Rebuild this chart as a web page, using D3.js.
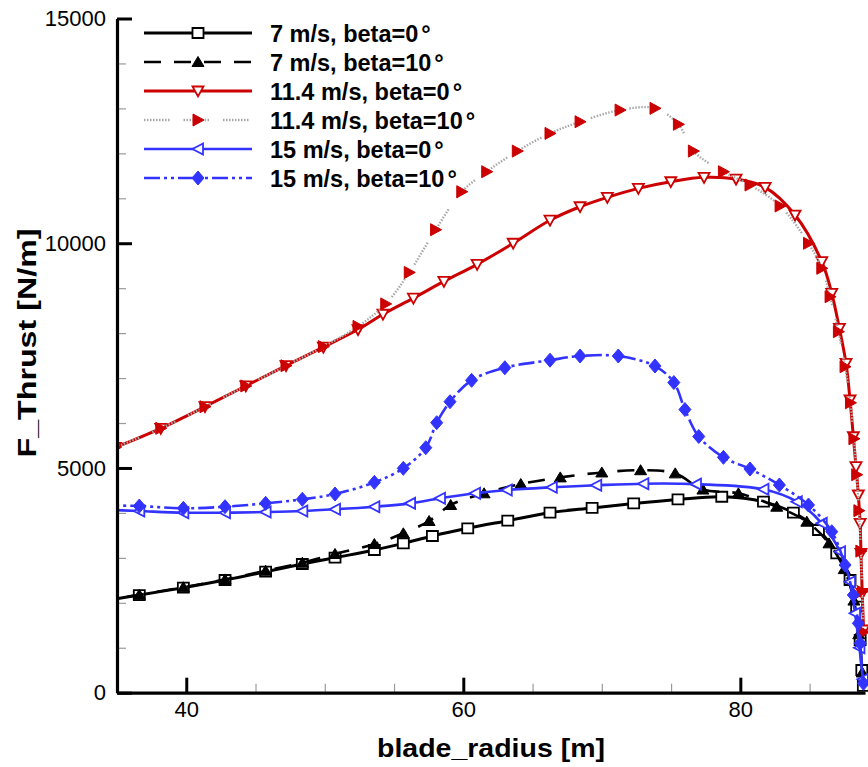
<!DOCTYPE html>
<html>
<head>
<meta charset="utf-8">
<script src="https://cdn.jsdelivr.net/npm/d3@7"></script>
<style>
  html, body { margin: 0; padding: 0; background: #fff; }
  svg { display: block; font-family: "Liberation Sans", Arial, Helvetica, sans-serif; }
</style>
</head>
<body>
<svg id="chart" width="868" height="767"></svg>
<script>
// Spanwise thrust distribution along the blade, F_Thrust [N/m] vs blade_radius [m]

// 7 m/s, beta = 0 deg
const r7b0 = [33.6, 36.61, 39.79, 42.80, 45.73, 48.38, 50.74, 53.58, 55.67, 57.77, 60.32, 63.21, 66.26, 69.3, 72.3, 75.5, 78.66, 81.67, 83.83, 85.64, 86.96, 87.92, 88.40, 88.65, 88.77, 88.88];
const f7b0 = [2020, 2173, 2336, 2507, 2692, 2863, 3004, 3175, 3323, 3486, 3657, 3827, 4005, 4110, 4210, 4300, 4360, 4249, 4005, 3620, 3101, 2507, 1913, 1172, 505, 150];

// 7 m/s, beta = 10 deg
const r7b10 = [33.6, 36.61, 39.79, 42.80, 45.73, 48.38, 50.74, 53.58, 55.67, 57.53, 59.09, 61.50, 64.15, 67.0, 70.0, 72.8, 75.3, 77.3, 79.86, 82.63, 84.8, 86.4, 87.5, 88.2, 88.55, 88.8];
const f7b10 = [2020, 2180, 2345, 2520, 2714, 2892, 3086, 3308, 3546, 3820, 4176, 4436, 4643, 4790, 4900, 4950, 4880, 4520, 4436, 4138, 3805, 3323, 2750, 2050, 1300, 450];

// 11.4 m/s, beta = 0 deg
const r11b0 = [34.9, 38.16, 41.35, 44.3, 47.2, 49.9, 52.4, 54.2, 56.4, 58.6, 61.0, 63.6, 66.26, 68.43, 70.40, 72.64, 74.98, 77.38, 79.69, 81.79, 83.95, 85.88, 86.6, 87.15, 87.63, 87.92, 88.16, 88.35, 88.52, 88.65, 88.71, 88.80, 88.9];
const f11b0 = [5460, 5882, 6363, 6825, 7275, 7690, 8080, 8420, 8780, 9150, 9530, 10000, 10512, 10812, 11021, 11221, 11368, 11466, 11428, 11244, 10627, 9590, 8885, 8107, 7328, 6512, 5695, 5028, 4398, 3768, 3101, 2211, 1395];

// 11.4 m/s, beta = 10 deg
const r11b10 = [34.9, 38.16, 41.35, 44.3, 47.2, 49.9, 52.4, 54.4, 56.1, 58.0, 59.89, 61.69, 63.9, 66.26, 68.43, 71.32, 73.84, 75.53, 76.61, 78.78, 80.70, 82.87, 84.92, 85.88, 86.48, 87.08, 87.56, 87.95, 88.2, 88.4, 88.56, 88.7, 88.8, 88.9];
const f11b10 = [5460, 5882, 6363, 6825, 7275, 7700, 8150, 8650, 9350, 10300, 11146, 11591, 12050, 12444, 12703, 12963, 13001, 12645, 12051, 11591, 11295, 10828, 9998, 9442, 8810, 8032, 7253, 6450, 5650, 4850, 4050, 3150, 2250, 1350];

// 15 m/s, beta = 0 deg
const r15b0 = [33.5, 36.61, 39.79, 42.80, 45.73, 48.38, 50.74, 53.58, 56.16, 58.32, 60.85, 63.14, 66.39, 69.6, 73.0, 76.8, 81.67, 84.08, 85.88, 87.20, 87.92, 88.28, 88.6, 88.85];
const f15b0 = [4080, 4042, 4005, 4005, 4020, 4042, 4080, 4138, 4213, 4325, 4436, 4510, 4570, 4615, 4650, 4640, 4525, 4249, 3768, 3137, 2469, 1766, 1000, 300];

// 15 m/s, beta = 10 deg
const r15b10 = [33.5, 36.61, 39.79, 42.80, 45.73, 48.38, 50.74, 53.58, 55.67, 57.29, 58.08, 59.04, 60.6, 63.0, 66.26, 68.43, 71.19, 73.84, 75.2, 76.0, 77.0, 78.78, 80.70, 82.82, 84.92, 86.60, 87.56, 88.16, 88.52, 88.65, 88.89];
const f15b10 = [4170, 4153, 4102, 4138, 4213, 4302, 4420, 4680, 4992, 5451, 6007, 6474, 6950, 7230, 7398, 7491, 7491, 7268, 6900, 6300, 5700, 5237, 4977, 4621, 4176, 3582, 2841, 2173, 1543, 1098, 209];

// Axis ticks
const xMajorTicks = [40, 60, 80];
const xMinorTicks = [45, 50, 55, 65, 70, 75, 85];
const yMajorTicks = [0, 5000, 10000, 15000];
const yMinorTicks = [1000, 2000, 3000, 4000, 6000, 7000, 8000, 9000, 11000, 12000, 13000, 14000];

const seriesLabels = ["7 m/s, beta=0", "7 m/s, beta=10", "11.4 m/s, beta=0", "11.4 m/s, beta=10", "15 m/s, beta=0", "15 m/s, beta=10"];

// ---------------------------------------------------------------------------
const RED = "#cc0000", BLUE = "#3333ff", BLACK = "#000000";

// dotted pattern with periodic breaks for the gray line
const dotted = d3.range(9).flatMap(() => [1.5, 1.5]);
dotted[dotted.length - 1] = 14;

const series = [
  { label: seriesLabels[0], r: r7b0,  f: f7b0,  stroke: BLACK, width: 3,   dash: null,            marker: "square",  mStroke: BLACK, mFill: "#fff" },
  { label: seriesLabels[1], r: r7b10, f: f7b10, stroke: BLACK, width: 2.6, dash: "17,13",         marker: "triUp",   mStroke: BLACK, mFill: BLACK },
  { label: seriesLabels[2], r: r11b0, f: f11b0, stroke: RED,   width: 3,   dash: null,            marker: "triDown", mStroke: RED,   mFill: "#fff" },
  { label: seriesLabels[3], r: r11b10,f: f11b10,stroke: "#a8a8a8", width: 2.4, dash: dotted.join(","), marker: "triRight", mStroke: RED, mFill: RED },
  { label: seriesLabels[4], r: r15b0, f: f15b0, stroke: BLUE,  width: 2.6, dash: null,            marker: "triLeft", mStroke: BLUE,  mFill: "#fff" },
  { label: seriesLabels[5], r: r15b10,f: f15b10,stroke: BLUE,  width: 2.6, dash: "16,4,3,4,3,4", marker: "diamond", mStroke: BLUE,  mFill: BLUE }
];

const svg = d3.select("#chart");
const plotLeft = 117, plotRight = 865, plotTop = 18.5, plotBottom = 692.7;

const x = d3.scaleLinear().domain([35, 89]).range([plotLeft, plotRight]);
const y = d3.scaleLinear().domain([0, 15000]).range([plotBottom, plotTop]);

svg.append("defs").append("clipPath").attr("id", "plotClip")
  .append("rect").attr("x", plotLeft).attr("y", 0).attr("width", 868 - plotLeft).attr("height", plotBottom);

// marker outlines
function markerPath(kind) {
  const p = d3.path();
  if (kind === "square") {
    p.rect(-5.5, -5, 11, 10);
  } else if (kind === "triUp") {
    p.moveTo(0, -5.5); p.lineTo(6, 4.5); p.lineTo(-6, 4.5); p.closePath();
  } else if (kind === "triDown") {
    p.moveTo(-5.5, -4.5); p.lineTo(5.5, -4.5); p.lineTo(0, 5.5); p.closePath();
  } else if (kind === "triRight") {
    p.moveTo(-5, -6); p.lineTo(6, 0); p.lineTo(-5, 6); p.closePath();
  } else if (kind === "triLeft") {
    p.moveTo(5, -5.5); p.lineTo(-5.5, 0); p.lineTo(5, 5.5); p.closePath();
  } else if (kind === "diamond") {
    p.moveTo(0, -7); p.lineTo(6, 0); p.lineTo(0, 7); p.lineTo(-6, 0); p.closePath();
  }
  return p.toString();
}

function drawMarker(g, s, px, py) {
  g.append("path")
    .attr("d", markerPath(s.marker))
    .attr("transform", `translate(${px},${py})`)
    .attr("fill", s.mFill)
    .attr("stroke", s.mStroke)
    .attr("stroke-width", s.mFill === "#fff" ? 1.8 : 1)
    .attr("stroke-linejoin", "miter");
}

const line = d3.line()
  .x(d => x(d[0]))
  .y(d => y(d[1]))
  .curve(d3.curveCatmullRom.alpha(0.5));

const plot = svg.append("g").attr("clip-path", "url(#plotClip)");

series.forEach(s => {
  const pts = s.r.map((r, i) => [r, s.f[i]]);
  const g = plot.append("g");
  g.append("path")
    .datum(pts)
    .attr("d", line)
    .attr("fill", "none")
    .attr("stroke", s.stroke)
    .attr("stroke-width", s.width)
    .attr("stroke-dasharray", s.dash)
    .attr("stroke-linejoin", "round");
  pts.forEach(d => drawMarker(g, s, x(d[0]), y(d[1])));
});

// ---- axes ----
function styleMinor(g) {
  g.select(".domain").remove();
  g.selectAll(".tick line").attr("stroke", "#9a9a9a").attr("stroke-width", 1.2);
  g.selectAll(".tick text").remove();
}

svg.append("g").attr("transform", `translate(${plotLeft},0)`)
  .call(d3.axisLeft(y).tickValues(yMinorTicks).tickSize(-9).tickSizeOuter(0))
  .call(styleMinor);

svg.append("g").attr("transform", `translate(0,${plotBottom})`)
  .call(d3.axisBottom(x).tickValues(xMinorTicks).tickSize(-9).tickSizeOuter(0))
  .call(styleMinor);

const yAxis = svg.append("g").attr("transform", `translate(${plotLeft},0)`)
  .call(d3.axisLeft(y).tickValues(yMajorTicks).tickSize(-15).tickSizeOuter(0).tickPadding(11).tickFormat(d3.format("d")));

const xAxis = svg.append("g").attr("transform", `translate(0,${plotBottom})`)
  .call(d3.axisBottom(x).tickValues(xMajorTicks).tickSize(-15).tickSizeOuter(0).tickPadding(9).tickFormat(d3.format("d")));

[yAxis, xAxis].forEach(g => {
  g.select(".domain").attr("stroke", "#000").attr("stroke-width", 3.2);
  g.selectAll(".tick line").attr("stroke", "#000").attr("stroke-width", 3);
  g.selectAll(".tick text")
    .attr("fill", "#000")
    .style("font-family", '"Liberation Sans", Arial, sans-serif')
    .style("font-size", "22px");
});

// axis titles
svg.append("text")
  .attr("x", 491).attr("y", 757)
  .attr("text-anchor", "middle")
  .attr("textLength", 228).attr("lengthAdjust", "spacingAndGlyphs")
  .style("font-size", "26px").style("font-weight", "bold")
  .text("blade_radius [m]");

svg.append("text")
  .attr("transform", "translate(36,343) rotate(-90)")
  .attr("text-anchor", "middle")
  .attr("textLength", 229).attr("lengthAdjust", "spacingAndGlyphs")
  .style("font-size", "26px").style("font-weight", "bold")
  .text("F_Thrust [N/m]");

// ---- legend ----
const legend = svg.append("g");
const rowY = d3.scalePoint().domain(d3.range(series.length)).range([33, 178]);

series.forEach((s, i) => {
  const yy = rowY(i);
  const g = legend.append("g");
  g.append("line")
    .attr("x1", 144).attr("x2", 252).attr("y1", yy).attr("y2", yy)
    .attr("stroke", s.stroke)
    .attr("stroke-width", s.width)
    .attr("stroke-dasharray", s.dash);
  drawMarker(g, s, 198, yy);
  const t = g.append("text")
    .attr("x", 270).attr("y", yy + 8.5)
    .style("font-size", "23.5px").style("font-weight", "bold")
    .attr("fill", "#000");
  t.append("tspan").text(s.label);
  t.append("tspan").attr("dx", 3).text("°");
});
</script>
</body>
</html>
